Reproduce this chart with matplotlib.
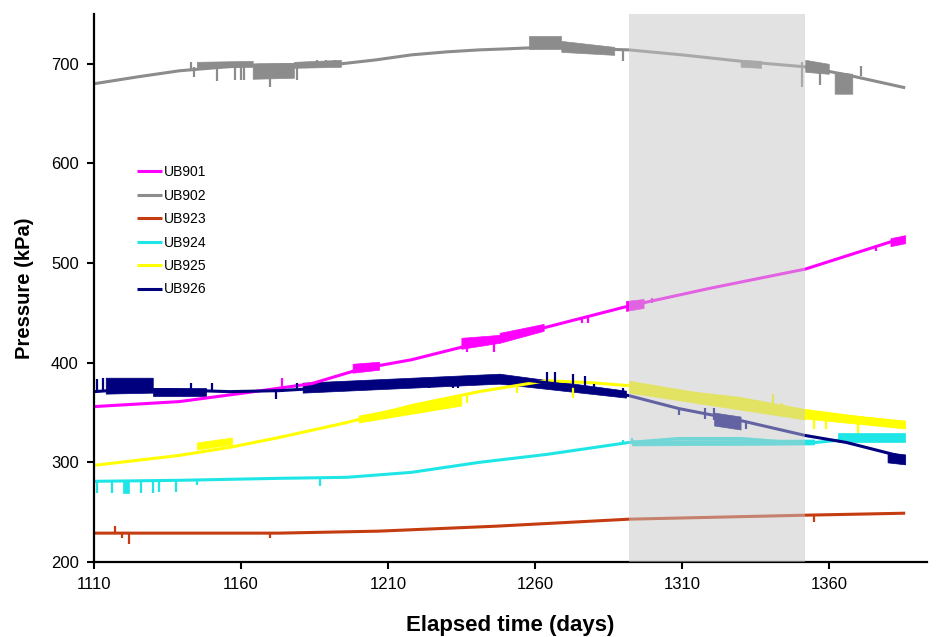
import matplotlib
matplotlib.use("Agg")
import matplotlib.pyplot as plt

plt.rcParams['font.family'] = ['Liberation Sans', 'DejaVu Sans']

# Base traces (elapsed day, pressure kPa)
ub901_days = [1110, 1139, 1162, 1184, 1201, 1218, 1241, 1263, 1292, 1320, 1352, 1386]
ub901_vals = [356, 361, 370, 379, 394, 403, 420, 435, 457, 475, 494, 526]

ub902_days = [1110, 1125, 1139, 1155, 1166, 1180, 1194, 1206, 1218, 1230, 1241, 1250,
              1258, 1270, 1280, 1292, 1310, 1332, 1352, 1366, 1386]
ub902_vals = [680, 687, 693, 697, 699, 699, 700, 704, 709, 712, 714, 715,
              716, 717, 715, 714, 709, 702, 697, 689, 676]

ub923_days = [1110, 1173, 1207, 1247, 1292, 1352, 1386]
ub923_vals = [229, 229, 231, 236, 243, 247, 249]

ub924_days = [1110, 1139, 1173, 1196, 1218, 1241, 1264, 1292, 1309, 1330, 1352, 1366, 1386]
ub924_vals = [281, 282, 284, 285, 290, 300, 308, 320, 324, 324, 319, 323, 325]

ub925_days = [1110, 1139, 1156, 1173, 1196, 1218, 1241, 1264, 1279, 1292, 1330, 1352, 1386]
ub925_vals = [297, 307, 315, 325, 340, 357, 371, 382, 380, 377, 364, 352, 339]

ub926_days = [1110, 1120, 1135, 1156, 1173, 1190, 1213, 1235, 1250, 1264, 1279, 1292,
              1309, 1330, 1352, 1366, 1386]
ub926_vals = [371, 373, 373, 371, 372, 375, 380, 384, 385, 380, 374, 367,
              354, 342, 327, 320, 305]

# Noisy stretches: (day0, day1, low0, high0, low1, high1)
ub901_bands = [(1198, 1207, 390, 399, 393, 401), (1235, 1248, 414, 425, 420, 428),
               (1248, 1263, 420, 430, 432, 439), (1291, 1297, 452, 462, 455, 464),
               (1381, 1386, 517, 525, 520, 528)]
ub902_bands = [(1145, 1164, 696, 702, 697, 703), (1164, 1178, 685, 700, 686, 701),
               (1178, 1194, 696, 702, 697, 704), (1258, 1269, 715, 728, 715, 728),
               (1269, 1287, 712, 723, 709, 717), (1330, 1337, 697, 704, 696, 703),
               (1352, 1360, 692, 704, 690, 700), (1362, 1368, 670, 692, 670, 690)]
ub923_bands = []
ub924_bands = [(1120, 1122, 269, 281, 269, 281), (1293, 1355, 317, 322, 318, 323),
               (1363, 1386, 320, 329, 320, 329)]
ub925_bands = [(1145, 1157, 313, 320, 318, 325), (1200, 1235, 340, 347, 357, 367),
               (1292, 1352, 370, 382, 343, 352), (1352, 1386, 344, 352, 334, 342)]
ub926_bands = [(1114, 1130, 369, 385, 370, 385), (1130, 1148, 367, 375, 367, 375),
               (1181, 1248, 370, 380, 379, 389), (1248, 1291, 379, 389, 365, 372),
               (1321, 1330, 337, 350, 333, 346), (1380, 1386, 300, 310, 298, 308)]

# Single spikes: day, from, to
ub901_spk_d = [1174, 1200, 1237, 1246, 1276, 1278, 1300, 1376]
ub901_spk_lo = [375, 391, 411, 411, 440, 440, 460, 512]
ub901_spk_hi = [385, 398, 420, 422, 446, 446, 465, 518]

ub902_spk_d = [1143, 1144, 1152, 1158, 1160, 1161, 1170, 1179, 1186, 1189, 1192, 1290, 1351, 1357, 1371]
ub902_spk_lo = [693, 687, 683, 684, 684, 684, 677, 684, 700, 700, 700, 703, 677, 679, 688]
ub902_spk_hi = [702, 697, 697, 697, 697, 697, 690, 699, 704, 704, 704, 714, 702, 696, 698]

ub923_spk_d = [1117, 1119.5, 1122, 1170, 1355]
ub923_spk_lo = [229, 224, 218, 224, 240]
ub923_spk_hi = [236, 229, 229, 229, 247]

ub924_spk_d = [1111, 1116, 1126, 1130, 1132, 1138, 1145, 1187, 1290, 1293]
ub924_spk_lo = [269, 269, 269, 269, 270, 270, 277, 276, 318, 318]
ub924_spk_hi = [281, 281, 282, 282, 282, 282, 283, 285, 322, 324]

ub925_spk_d = [1225, 1229, 1233, 1237, 1254, 1273, 1341, 1344, 1355, 1359, 1370]
ub925_spk_lo = [354, 356, 358, 360, 370, 365, 348, 347, 334, 334, 329]
ub925_spk_hi = [362, 364, 366, 368, 378, 380, 369, 360, 351, 350, 345]

ub926_spk_d = [1111, 1113, 1143, 1150, 1172, 1179, 1224, 1232, 1234, 1264, 1267, 1273,
               1277, 1280, 1290, 1309, 1318, 1321, 1332]
ub926_spk_lo = [372, 372, 372, 372, 364, 372, 375, 375, 375, 380, 379, 378,
                376, 374, 367, 348, 344, 343, 334]
ub926_spk_hi = [384, 385, 380, 380, 372, 380, 382, 384, 384, 391, 391, 389,
                387, 379, 375, 354, 355, 355, 342]

names = ['UB901', 'UB902', 'UB923', 'UB924', 'UB925', 'UB926']
colors = ['#ff00ff', '#8c8c8c', '#c43c10', '#1ee6e6', '#ffff00', '#00007f']

series = [
    (ub901_days, ub901_vals, ub901_bands, ub901_spk_d, ub901_spk_lo, ub901_spk_hi),
    (ub902_days, ub902_vals, ub902_bands, ub902_spk_d, ub902_spk_lo, ub902_spk_hi),
    (ub923_days, ub923_vals, ub923_bands, ub923_spk_d, ub923_spk_lo, ub923_spk_hi),
    (ub924_days, ub924_vals, ub924_bands, ub924_spk_d, ub924_spk_lo, ub924_spk_hi),
    (ub925_days, ub925_vals, ub925_bands, ub925_spk_d, ub925_spk_lo, ub925_spk_hi),
    (ub926_days, ub926_vals, ub926_bands, ub926_spk_d, ub926_spk_lo, ub926_spk_hi),
]

fig = plt.figure(figsize=(9.36, 6.37), dpi=100)
ax = fig.add_axes([0.1004, 0.1177, 0.8896, 0.8603])

for name, col, (d, v, bands, sd, slo, shi) in zip(names, colors, series):
    ax.plot(d, v, color=col, lw=2.2, label=name, solid_capstyle='butt')
    for b in bands:
        ax.fill_between([b[0], b[1]], [b[2], b[4]], [b[3], b[5]], color=col, lw=0.5)
    ax.vlines(sd, slo, shi, color=col, lw=1.6)

# shaded period drawn over the traces
ax.axvspan(1292, 1352, color='#c7c7c7', alpha=0.5, lw=0, zorder=5)

ax.set_xlim(1110, 1393.3)
ax.set_ylim(200, 750)
ax.set_xticks(range(1110, 1361, 50))
ax.set_yticks(range(200, 701, 100))
ax.tick_params(direction='out', length=5, width=1.5, labelsize=12, pad=6)
for s in ['top', 'right']:
    ax.spines[s].set_visible(False)
for s in ['left', 'bottom']:
    ax.spines[s].set_linewidth(1.6)

ax.set_xlabel('Elapsed time (days)', fontsize=16, fontweight='bold', labelpad=16)
ax.set_ylabel('Pressure (kPa)', fontsize=14.5, fontweight='bold', labelpad=12)

ax.legend(loc='upper left', bbox_to_anchor=(0.052, 0.724), frameon=False,
          fontsize=10, handlelength=1.8, handletextpad=0.1, labelspacing=0.68,
          borderaxespad=0, borderpad=0)

plt.savefig('out.png', dpi=100)
